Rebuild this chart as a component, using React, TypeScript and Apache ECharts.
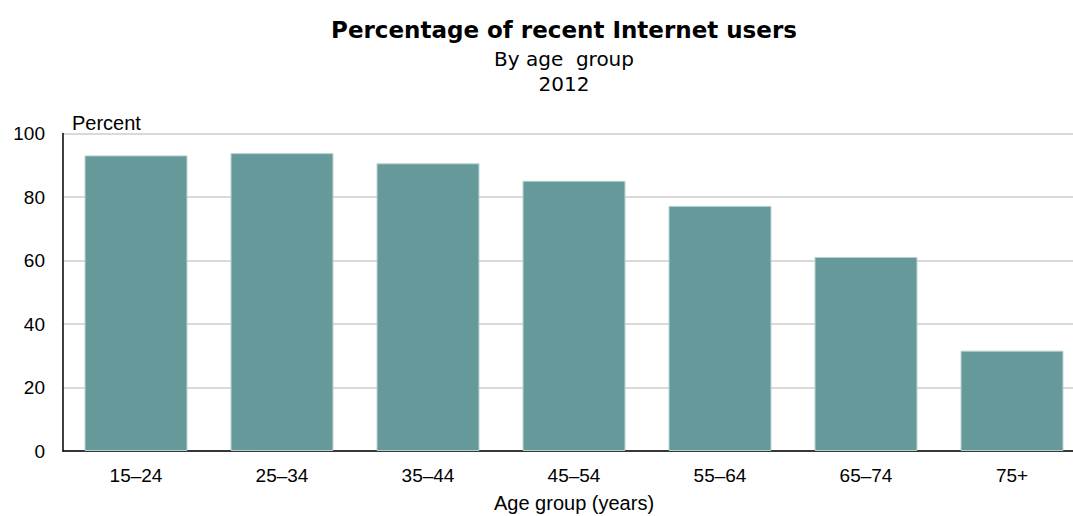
import React, { useEffect, useRef } from "react";
import * as echarts from "echarts";

const categories = ["15–24", "25–34", "35–44", "45–54", "55–64", "65–74", "75+"];
const values = [93.1, 93.8, 90.6, 85.1, 77.2, 61.1, 31.6];
const yTicks = { min: 0, max: 100, interval: 20 };
const titleText = "Percentage of recent Internet users";
const subtitleText = "By age  group";
const yearText = "2012";
const yAxisTitle = "Percent";
const xAxisTitle = "Age group (years)";

export default function App() {
  const ref = useRef<HTMLDivElement>(null);
  useEffect(() => {
    if (!ref.current) return;
    const chart = echarts.init(ref.current, undefined, { renderer: "svg" });
    const sans = "'Liberation Sans', Arial, sans-serif";
    chart.setOption({
      animation: false,
      backgroundColor: "#ffffff",
      grid: {
        left: 63,
        right: 0,
        top: 133.5,
        bottom: 65,
        containLabel: false,
        outerBoundsMode: "none",
      },
      graphic: [
        {
          type: "text",
          x: 564,
          y: 30,
          style: {
            text: titleText,
            fill: "#000",
            font: "bold 23px 'DejaVu Sans', sans-serif",
            align: "center",
            verticalAlign: "middle",
          },
        },
        {
          type: "text",
          x: 564,
          y: 59,
          style: {
            text: subtitleText,
            fill: "#000",
            font: "20px 'DejaVu Sans', sans-serif",
            align: "center",
            verticalAlign: "middle",
          },
        },
        {
          type: "text",
          x: 564,
          y: 84,
          style: {
            text: yearText,
            fill: "#000",
            font: "20px 'DejaVu Sans', sans-serif",
            align: "center",
            verticalAlign: "middle",
          },
        },
        {
          type: "text",
          x: 72,
          y: 123,
          style: {
            text: yAxisTitle,
            fill: "#000",
            font: "20px " + sans,
            align: "left",
            verticalAlign: "middle",
          },
        },
      ],
      xAxis: {
        type: "category",
        data: categories,
        name: xAxisTitle,
        nameLocation: "middle",
        nameGap: 42,
        nameTextStyle: { color: "#000", fontSize: 20, fontFamily: sans },
        axisLine: { show: true, lineStyle: { color: "#000", width: 1.5 } },
        axisTick: { show: false },
        axisLabel: { color: "#000", fontSize: 19, fontFamily: sans, margin: 15 },
        splitLine: { show: false },
      },
      yAxis: {
        type: "value",
        min: yTicks.min,
        max: yTicks.max,
        interval: yTicks.interval,
        axisLine: { show: true, lineStyle: { color: "#000", width: 1.5 } },
        axisTick: { show: false },
        axisLabel: { color: "#000", fontSize: 19, fontFamily: sans, margin: 18 },
        splitLine: { show: true, lineStyle: { color: "#d9d9d9", width: 2 } },
      },
      series: [
        {
          type: "bar",
          data: values,
          barCategoryGap: "29.5%",
          itemStyle: { color: "#669999", borderColor: "#b5cfcf", borderWidth: 1 },
        },
      ],
    });
    return () => chart.dispose();
  }, []);
  return (
    <div
      style={{
        position: "absolute",
        left: 0,
        top: 0,
        width: 1073,
        height: 516,
        overflow: "hidden",
        background: "#fff",
      }}
    >
      <div ref={ref} style={{ width: 1085, height: 516 }} />
    </div>
  );
}
